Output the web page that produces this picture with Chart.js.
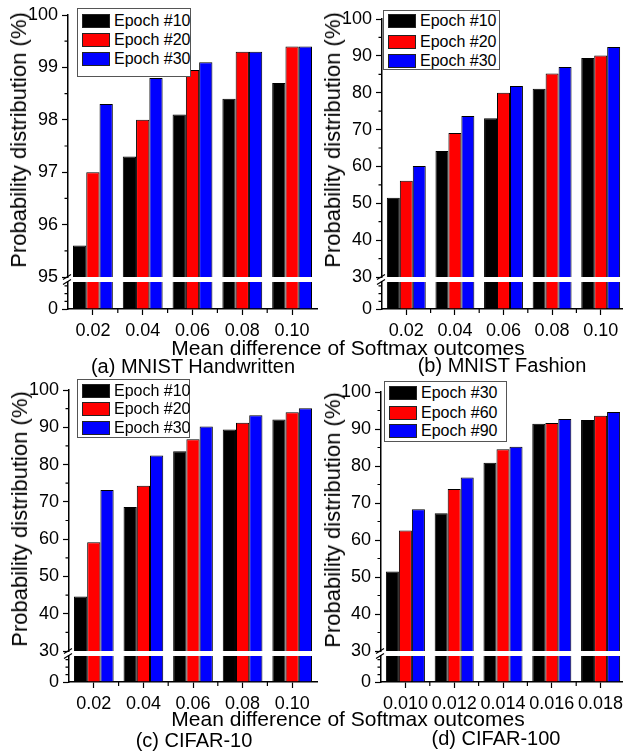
<!DOCTYPE html>
<html lang="en">
<head>
<meta charset="UTF-8">
<title>Probability distribution vs mean difference of Softmax outcomes</title>
<script src="https://cdn.jsdelivr.net/npm/chart.js"></script>
<style>
    html, body { margin: 0; padding: 0; overflow: hidden; background: #fff; }
    body { width: 623px; height: 752px; position: relative; font-family: 'Liberation Sans', Arial, sans-serif; color: #000; }
    canvas { position: absolute; }
    .txt { position: absolute; white-space: nowrap; line-height: 1; transform: translate(-50%, -50%); }
    .ytitle { font-size: 22px; transform: translate(-50%, -50%) rotate(-90deg); }
    .xtitle { font-size: 21px; }
    .caption { font-size: 20px; }
    .legend { position: absolute; border: 1px solid #555; background: #fff; box-sizing: border-box; }
    .legend .row { position: absolute; left: 4px; display: flex; align-items: center; white-space: nowrap; font-size: 16px; line-height: 1; transform: translateY(-50%); }
    .legend .sw { flex: none; width: 28px; height: 14px; border: 1px solid #222; box-sizing: border-box; margin-right: 4px; }
</style>
</head>
<body>
<script>
    // categories (mean difference of Softmax outcomes)
    const diffMnist = ['0.02', '0.04', '0.06', '0.08', '0.10'];
    const diffCifar100 = ['0.010', '0.012', '0.014', '0.016', '0.018'];
    const epochs10 = ['Epoch #10', 'Epoch #20', 'Epoch #30'];
    const epochs30 = ['Epoch #30', 'Epoch #60', 'Epoch #90'];

    // (a) MNIST Handwritten
    const handE10 = [95.6, 97.3, 98.1, 98.4, 98.7];
    const handE20 = [97.0, 98.0, 98.95, 99.3, 99.4];
    const handE30 = [98.3, 98.8, 99.1, 99.3, 99.4];
    // (b) MNIST Fashion
    const fashE10 = [51.5, 64.2, 73.1, 81.1, 89.4];
    const fashE20 = [56.1, 69.1, 80.0, 85.2, 90.1];
    const fashE30 = [60.1, 73.7, 81.8, 87.0, 92.4];
    // (c) CIFAR-10
    const c10E10 = [44.6, 68.6, 83.6, 89.4, 92.1];
    const c10E20 = [59.2, 74.3, 86.8, 91.2, 94.0];
    const c10E30 = [73.2, 82.4, 90.2, 93.2, 95.1];
    // (d) CIFAR-100
    const c100E30 = [51.5, 67.2, 80.9, 91.4, 92.4];
    const c100E60 = [62.6, 73.8, 84.5, 91.6, 93.6];
    const c100E90 = [68.3, 76.9, 85.2, 92.7, 94.6];

    // y tick labels (upper part of the broken axis) and the lower part
    const yTicksHand = [95, 96, 97, 98, 99, 100];
    const yTicksPct = [30, 40, 50, 60, 70, 80, 90, 100];
    const yTicksLow = [0];
    const yLowMax = 7;
    const yLowMinor = [2, 4, 6];

    const barColors = ['#000000', '#ff0000', '#0000ff'];
    const yTitle = 'Probability distribution (%)';
    const xTitle = 'Mean difference of Softmax outcomes';

    const panels = [
        { cats: diffMnist, names: epochs10, series: [handE10, handE20, handE30], yTicks: yTicksHand, caption: '(a) MNIST Handwritten',
          box: { left: 0, axisL: 68, axisR: 317, upTop: 15, upBot: 277, lowTop: 282, lowBot: 309 },
          leg: { x: 77, y: 8, w: 114, h: 69, rows: [12, 31, 50] }, yt: [19, 140], cap: [193, 366] },
        { cats: diffMnist, names: epochs10, series: [fashE10, fashE20, fashE30], yTicks: yTicksPct, caption: '(b) MNIST Fashion',
          box: { left: 310, axisL: 382, axisR: 625, upTop: 19, upBot: 277, lowTop: 282, lowBot: 309 },
          leg: { x: 383, y: 10, w: 117, h: 60, rows: [10, 31, 50] }, yt: [333, 140], cap: [502, 365] },
        { cats: diffMnist, names: epochs10, series: [c10E10, c10E20, c10E30], yTicks: yTicksPct, caption: '(c) CIFAR-10',
          box: { left: 0, axisL: 69, axisR: 317, upTop: 390, upBot: 651, lowTop: 656, lowBot: 682 },
          leg: { x: 77, y: 379, w: 113, h: 59, rows: [11, 29, 48] }, yt: [20, 519], cap: [194, 740] },
        { cats: diffCifar100, names: epochs30, series: [c100E30, c100E60, c100E90], yTicks: yTicksPct, caption: '(d) CIFAR-100',
          box: { left: 310, axisL: 381, axisR: 625, upTop: 392, upBot: 651, lowTop: 656, lowBot: 682 },
          leg: { x: 384, y: 381, w: 123, h: 61, rows: [11, 31, 49] }, yt: [333, 520], cap: [496, 738] }
    ];

    Chart.defaults.font.family = "'Liberation Sans', Arial, sans-serif";
    Chart.defaults.font.size = 18;
    Chart.defaults.color = '#000';

    // minor ticks + axis break marks
    const extras = {
        id: 'extras',
        afterDraw(chart, args, o) {
            const ctx = chart.ctx, a = chart.chartArea, y = chart.scales.y, x = chart.scales.x;
            ctx.save();
            ctx.strokeStyle = '#000';
            ctx.lineWidth = 1.2;
            ctx.beginPath();
            o.yMinor.forEach(v => {
                const py = y.getPixelForValue(v);
                ctx.moveTo(a.left - 3.5, py); ctx.lineTo(a.left, py);
            });
            if (o.lower) {
                for (let i = 0; i < x.ticks.length - 1; i++) {
                    const px = (x.getPixelForValue(i) + x.getPixelForValue(i + 1)) / 2;
                    ctx.moveTo(px, a.bottom); ctx.lineTo(px, a.bottom + 4);
                }
                [a.top, a.top - o.gap].forEach(by => {
                    ctx.moveTo(a.left - 5, by + 2.5); ctx.lineTo(a.left + 3, by - 2.5);
                });
            }
            ctx.stroke();
            ctx.restore();
        }
    };

    function makeChart(p, upper) {
        const b = p.box;
        const padT = 12, padB = upper ? 12 : 0, padR = 10, xH = 40;
        const top = upper ? b.upTop : b.lowTop;
        const bot = upper ? b.upBot : b.lowBot;
        const w = b.axisR - b.left + padR;
        const h = padT + (bot - top) + (upper ? padB : xH);
        const cv = document.createElement('canvas');
        cv.width = w; cv.height = h;
        cv.style.left = b.left + 'px';
        cv.style.top = (top - padT) + 'px';
        cv.style.width = w + 'px';
        cv.style.height = h + 'px';
        document.body.appendChild(cv);

        const ticks = upper ? p.yTicks : yTicksLow;
        const minor = [];
        if (upper) {
            for (let i = 0; i < ticks.length - 1; i++) minor.push((ticks[i] + ticks[i + 1]) / 2);
        } else {
            minor.push(...yLowMinor);
        }

        new Chart(cv, {
            type: 'bar',
            data: {
                labels: p.cats,
                datasets: p.series.map((d, i) => ({
                    label: p.names[i],
                    data: d,
                    backgroundColor: barColors[i],
                    borderColor: '#000',
                    borderWidth: 1,
                    categoryPercentage: 0.8,
                    barPercentage: 1,
                    clip: 0
                }))
            },
            options: {
                responsive: false,
                animation: false,
                events: [],
                layout: { padding: { top: padT, bottom: padB, left: 0, right: padR } },
                plugins: {
                    legend: { display: false },
                    tooltip: { enabled: false },
                    extras: { yMinor: minor, lower: !upper, gap: b.lowTop - b.upBot }
                },
                scales: {
                    x: {
                        display: !upper,
                        offset: true,
                        grid: { offset: false, drawOnChartArea: false, tickLength: 6, tickColor: '#000', tickWidth: 1.2 },
                        border: { color: '#000', width: 1.5 },
                        ticks: { padding: 5, maxRotation: 0, autoSkip: false },
                        afterFit: s => {
                            if (upper) return;
                            s.height = xH; s.paddingLeft = 0; s.paddingRight = 0;
                        }
                    },
                    y: {
                        min: upper ? ticks[0] : 0,
                        max: upper ? ticks[ticks.length - 1] : yLowMax,
                        afterBuildTicks: s => { s.ticks = ticks.map(v => ({ value: v })); },
                        grid: { drawOnChartArea: false, tickLength: 6, tickColor: '#000', tickWidth: 1.2 },
                        border: { color: '#000', width: 1.5 },
                        ticks: { padding: 4 },
                        afterFit: s => { s.width = b.axisL - b.left; s.paddingTop = 0; s.paddingBottom = 0; }
                    }
                }
            },
            plugins: [extras]
        });
    }

    function addText(cls, text, x, y) {
        const d = document.createElement('div');
        d.className = 'txt ' + cls;
        d.textContent = text;
        d.style.left = x + 'px';
        d.style.top = y + 'px';
        document.body.appendChild(d);
    }

    panels.forEach(p => {
        makeChart(p, true);
        makeChart(p, false);
        addText('ytitle', yTitle, p.yt[0], p.yt[1]);
        addText('caption', p.caption, p.cap[0], p.cap[1]);

        const lg = document.createElement('div');
        lg.className = 'legend';
        lg.style.left = p.leg.x + 'px';
        lg.style.top = p.leg.y + 'px';
        lg.style.width = p.leg.w + 'px';
        lg.style.height = p.leg.h + 'px';
        p.names.forEach((n, i) => {
            const r = document.createElement('div');
            r.className = 'row';
            r.style.top = p.leg.rows[i] + 'px';
            r.innerHTML = '<span class="sw" style="background:' + barColors[i] + '"></span>';
            r.appendChild(document.createTextNode(n));
            lg.appendChild(r);
        });
        document.body.appendChild(lg);
    });

    addText('xtitle', xTitle, 348, 347);
    addText('xtitle', xTitle, 348, 718);
</script>
</body>
</html>
